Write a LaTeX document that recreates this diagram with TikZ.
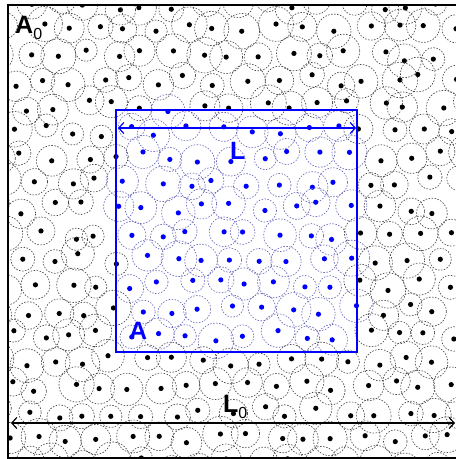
\documentclass[tikz,border=0pt]{standalone}
\usepackage{fontspec}
\setmainfont{Liberation Sans}
\usetikzlibrary{arrows.meta}
\newcommand{\subzero}{\raisebox{-6pt}{\fontsize{16}{16}\selectfont\mdseries 0}}
\begin{document}
\begin{tikzpicture}[x=1pt, y=-1pt,
    >={Straight Barb[length=5pt, width=11pt]},
    disk/.style={dash pattern=on 1.5pt off 1.5pt, line width=0.65pt},
    sym/.style={font=\fontsize{25}{25}\selectfont\bfseries, inner sep=0pt, anchor=base west}]
    \useasboundingbox (0,0) rectangle (456,459);
    \pgfmathsetseed{12}
    \begin{scope}
        \clip (8,5) rectangle (456,458);
        \foreach \r in {0,...,18} {
            \foreach \c in {0,...,16} {
                \pgfmathsetmacro\px{\c*29.5+mod(\r,2)*14.75-4+7*rand}
                \pgfmathsetmacro\py{\r*25.5+4+6*rand}
                \pgfmathsetmacro\rad{14.5+3.5*rand}
                \pgfmathtruncatemacro\inbox{(\px>117)&&(\px<357)&&(\py>110)&&(\py<352)}
                \ifnum\inbox=1
                    \def\ringcol{blue!55!black!60}\def\dotcol{blue}
                \else
                    \def\ringcol{black!72}\def\dotcol{black}
                \fi
                \draw[disk, \ringcol] (\px,\py) circle[radius=\rad];
                \fill[\dotcol] (\px,\py) circle[radius=2.6];
            }
        }
    \end{scope}

    % outer region A0
    \coordinate (NE) at (456,5);
    \coordinate (NW) at (8,5);
    \coordinate (SW) at (8,458);
    \coordinate (SE) at (456,458);
    \draw[line width=1.2pt] (NE) -- (NW) -- (SW) -- (SE);

    % sub-region A
    \coordinate (Anw) at (116,110);
    \coordinate (Ase) at (357,352);
    \draw[blue, line width=1.2pt] (Anw) rectangle (Ase);

    \coordinate (Lw) at (118,128);
    \coordinate (Le) at (356,128);
    \draw[<->, blue, line width=1.2pt] (Lw) -- (Le);

    \coordinate (Lzw) at (11,423);
    \coordinate (Lze) at (455,423);
    \draw[<->, line width=1.2pt] (Lzw) -- (Lze);

    \node[sym] (Azero) at (15,33) {A\subzero};
    \node[sym] (Lzero) at (223,412) {L\subzero};
    \node[sym, blue] (Lsub) at (230,159) {L};
    \node[sym, blue] (Asub) at (129,339) {A};
\end{tikzpicture}
\end{document}
